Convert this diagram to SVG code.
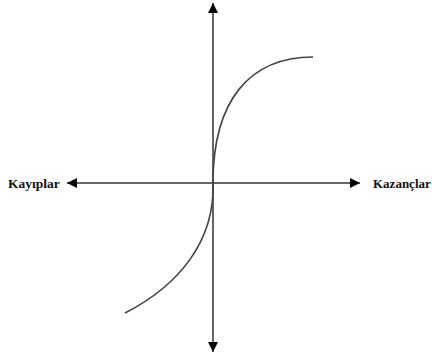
<svg xmlns="http://www.w3.org/2000/svg" width="432" height="354" viewBox="0 0 432 354">
<defs>
<style>
.ax{stroke:#333;stroke-width:1.5;fill:none}
.cv{stroke:#444;stroke-width:1.6;fill:none}
.lbl{font-family:"Liberation Serif","Times New Roman",serif;font-size:13.5px;font-weight:bold;fill:#111}
</style>
<marker id="ah" viewBox="0 0 10 10" refX="10" refY="5" markerWidth="10" markerHeight="10" markerUnits="userSpaceOnUse" orient="auto">
<path d="M0,0 L10,5 L0,10 Z" fill="#000"/>
</marker>
</defs>
<rect width="432" height="354" fill="#fff"/>
<g id="connectors">
<line class="ax" x1="213" y1="183" x2="213" y2="3" marker-end="url(#ah)"/>
<line class="ax" x1="213" y1="183" x2="213" y2="352" marker-end="url(#ah)"/>
<line class="ax" x1="213" y1="183" x2="67" y2="183" marker-end="url(#ah)"/>
<line class="ax" x1="213" y1="183" x2="360" y2="183" marker-end="url(#ah)"/>
</g>
<g id="curve">
<path class="cv" d="M213,183 C213,100 250,57 313,57"/>
<path class="cv" d="M213,183 C215,240 180,285 125,313"/>
</g>
<g id="losses"><text class="lbl" x="8" y="188">Kayıplar</text></g>
<g id="gains"><text class="lbl" x="373" y="188" style="font-size:13px">Kazançlar</text></g>
</svg>
